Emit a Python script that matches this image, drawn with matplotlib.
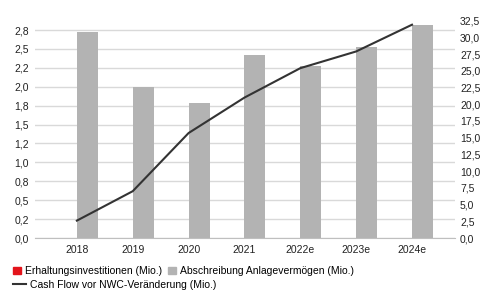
import matplotlib
matplotlib.use("Agg")
import matplotlib.pyplot as plt
from matplotlib.patches import Patch
from matplotlib.lines import Line2D

years = ["2018", "2019", "2020", "2021", "2022e", "2023e", "2024e"]
erhaltung = [0, 0, 0, 0, 0, 0, 0]
abschreibung = [2.72, 2.0, 1.79, 2.42, 2.28, 2.53, 2.81]
cashflow = [2.6, 7.0, 15.7, 21.0, 25.4, 27.9, 31.9]

left_ticks = [i * 0.25 for i in range(12)]
right_ticks = [i * 2.5 for i in range(14)]

plt.rcParams['font.family'] = ['Liberation Sans', 'DejaVu Sans']
plt.rcParams['font.size'] = 7.45

def fmt(v):
	return f"{v:.1f}".replace('.', ',')

fig = plt.figure(figsize=(4.84, 2.93), dpi=100)
ax = fig.add_axes([35/484, 1 - 238/293, 420/484, 217.3/293])

x = list(range(len(years)))
w = 0.375
ax.bar([i - w/2 for i in x], erhaltung, width=w, color='#e3141b')
ax.bar([i + w/2 for i in x], abschreibung, width=w, color='#b3b3b3')

ax.set_xlim(-0.75, 6.77)
ax.set_ylim(0, 2.873)
ax.set_yticks(left_ticks)
ax.set_yticklabels([fmt(v) for v in left_ticks])
ax.set_xticks(x)
ax.set_xticklabels(years)
ax.yaxis.grid(True, color='#d9d9d9', linewidth=1)
ax.set_axisbelow(True)
for s in ['top', 'left', 'right']:
	ax.spines[s].set_visible(False)
ax.spines['bottom'].set_color('#bfbfbf')
ax.tick_params(axis='both', length=0, colors='#222222')
ax.tick_params(axis='y', pad=4.3)
ax.tick_params(axis='x', pad=5)

ax2 = ax.twinx()
ax2.plot(x, cashflow, color='#333333', linewidth=1.5)
ax2.set_ylim(0, 32.5)
ax2.set_yticks(right_ticks)
ax2.set_yticklabels([fmt(v) for v in right_ticks])
for s in ax2.spines.values():
	s.set_visible(False)
ax2.tick_params(axis='y', length=0, pad=3.6, colors='#222222')

h1 = [Patch(color='#e3141b'), Patch(color='#b3b3b3')]
fig.legend(h1, ["Erhaltungsinvestitionen (Mio.)", "Abschreibung Anlagevermögen (Mio.)"],
	loc='center left', bbox_to_anchor=(8/484, 1 - 271/293), ncol=2, frameon=False,
	handlelength=0.75, handleheight=0.75, handletextpad=0.4, columnspacing=0.6, borderpad=0)
h2 = [Line2D([0], [0], color='#333333', linewidth=1.5)]
fig.legend(h2, ["Cash Flow vor NWC-Veränderung (Mio.)"],
	loc='center left', bbox_to_anchor=(8/484, 1 - 285/293), frameon=False,
	handlelength=1.2, handletextpad=0.4, borderpad=0)

fig.savefig("out.png", dpi=100)
